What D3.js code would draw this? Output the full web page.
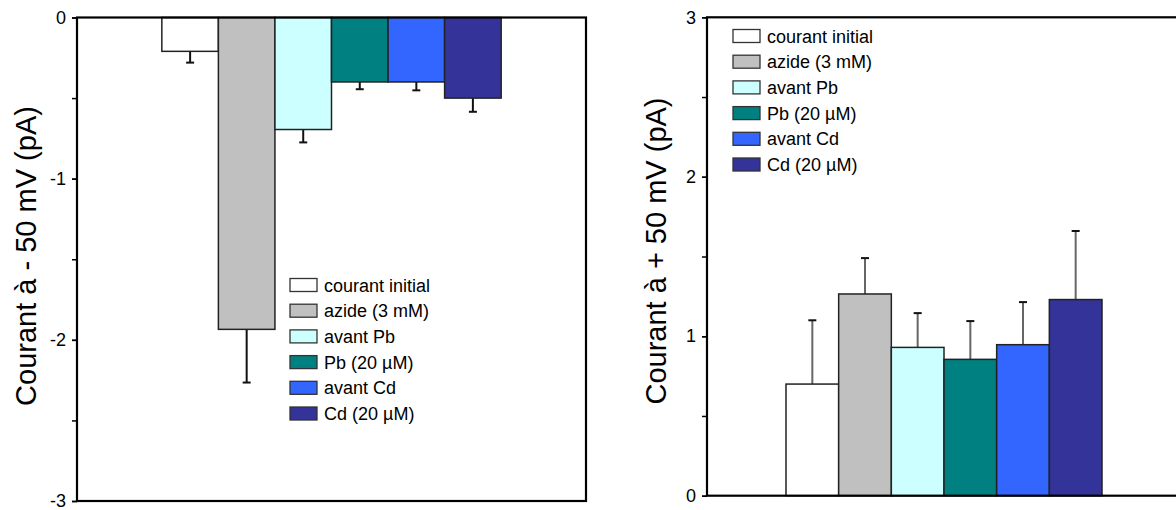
<!DOCTYPE html>
<html>
<head>
<meta charset="utf-8">
<script src="https://cdn.jsdelivr.net/npm/d3@7"></script>
<style>
  body { margin: 0; background: #fff; }
  text { font-family: "Liberation Sans", Arial, sans-serif; fill: #000; }
</style>
</head>
<body>
<div id="chart-area"></div>
<script>
// data
const categories = ["courant initial", "azide (3 mM)", "avant Pb", "Pb (20 µM)", "avant Cd", "Cd (20 µM)"]
const negValues = [-0.21, -1.935, -0.695, -0.40, -0.40, -0.50]
const negErrors = [0.07, 0.33, 0.08, 0.045, 0.052, 0.085]
const posValues = [0.70, 1.265, 0.93, 0.855, 0.947, 1.23]
const posErrors = [0.40, 0.225, 0.215, 0.24, 0.267, 0.43]
const negTicks = [0, -1, -2, -3]
const posTicks = [0, 1, 2, 3]

const COLORS = ["#ffffff", "#c0c0c0", "#ccffff", "#008080", "#3366ff", "#333399"]

const svg = d3.select("#chart-area").append("svg")
  .attr("width", 1176)
  .attr("height", 510)

function drawPanel(opts) {
  const W = opts.right - opts.left
  const H = opts.bottom - opts.top
  const g = svg.append("g")
    .attr("transform", `translate(${opts.left}, ${opts.top})`)

  const yScale = d3.scaleLinear().domain(opts.domain).range([0, H])

  // one group of bars, centred in the plot
  const xGroup = d3.scaleBand().domain(["g"]).range([0, W]).paddingOuter(0.25)
  const xScale = d3.scaleBand().domain(categories)
    .range([xGroup("g"), xGroup("g") + xGroup.bandwidth()])

  const data = categories.map((c, i) => ({ cat: c, v: opts.values[i], e: opts.errors[i], col: COLORS[i] }))

  // error bars first so the bar outline sits on top
  const err = g.append("g")
  const ex = d => xScale(d.cat) + xScale.bandwidth() / 2
  const eEnd = d => yScale(d.v + Math.sign(d.v) * d.e)
  err.selectAll("line.stem").data(data).enter().append("line")
    .attr("class", "stem")
    .attr("x1", ex).attr("x2", ex)
    .attr("y1", d => yScale(d.v)).attr("y2", eEnd)
    .attr("stroke", opts.errColor).attr("stroke-width", 2)
  err.selectAll("line.cap").data(data).enter().append("line")
    .attr("class", "cap")
    .attr("x1", d => ex(d) - 4).attr("x2", d => ex(d) + 4)
    .attr("y1", eEnd).attr("y2", eEnd)
    .attr("stroke", "#111").attr("stroke-width", 2)

  g.selectAll("rect.bar").data(data).enter().append("rect")
    .attr("class", "bar")
    .attr("x", d => xScale(d.cat))
    .attr("width", xScale.bandwidth())
    .attr("y", d => Math.min(yScale(0), yScale(d.v)))
    .attr("height", d => Math.abs(yScale(d.v) - yScale(0)))
    .attr("fill", d => d.col)
    .attr("stroke", "#222")
    .attr("stroke-width", 1.5)

  // frame
  g.append("rect")
    .attr("x", 0).attr("y", 0).attr("width", W).attr("height", H)
    .attr("fill", "none").attr("stroke", "#000").attr("stroke-width", 2.2)

  // y axis with half-unit minor ticks
  const lo = d3.min(opts.domain), hi = d3.max(opts.domain)
  const minor = d3.range(lo, hi + 0.001, 0.5)
  g.append("g")
    .attr("class", "y axis")
    .call(d3.axisLeft(yScale).tickValues(minor).tickSize(5).tickFormat(""))
    .call(a => a.select(".domain").remove())
    .call(a => a.selectAll("line").attr("stroke", "#000").attr("stroke-width", 1.5))
  g.append("g")
    .attr("class", "y axis")
    .call(d3.axisLeft(yScale).tickValues(opts.ticks).tickSize(5).tickPadding(6).tickFormat(d => String(d)))
    .call(a => a.select(".domain").remove())
    .call(a => a.selectAll("line").attr("stroke", "#000").attr("stroke-width", 1.5))
    .call(a => a.selectAll("text").attr("font-size", "18px")
      .attr("font-family", "'Liberation Sans', Arial, sans-serif").attr("fill", "#000"))

  g.append("text")
    .attr("transform", `translate(${opts.titleX - opts.left}, ${opts.titleY - opts.top}) rotate(-90)`)
    .attr("text-anchor", "middle")
    .attr("font-size", "29px")
    .text(opts.title)

  // legend
  const leg = g.selectAll("g.leg").data(data).enter().append("g")
    .attr("class", "leg")
    .attr("transform", (d, i) => `translate(${opts.legX - opts.left}, ${opts.legY - opts.top + i * 25.7})`)
  leg.append("rect")
    .attr("x", 0).attr("y", -6.5).attr("width", 27).attr("height", 13)
    .attr("fill", d => d.col).attr("stroke", "#333").attr("stroke-width", 1.3)
  leg.append("text")
    .attr("x", 34).attr("y", 6.5)
    .attr("font-size", "18px")
    .text(d => d.cat)
}

drawPanel({
  left: 77, right: 586, top: 17.5, bottom: 501,
  domain: [0, -3], values: negValues, errors: negErrors, ticks: negTicks,
  errColor: "#111",
  title: "Courant à - 50 mV (pA)", titleX: 36, titleY: 256,
  legX: 290, legY: 285
})

drawPanel({
  left: 707, right: 1181, top: 17.3, bottom: 495.7,
  domain: [3, 0], values: posValues, errors: posErrors, ticks: posTicks,
  errColor: "#666",
  title: "Courant à + 50 mV (pA)", titleX: 666, titleY: 251,
  legX: 733, legY: 36
})
</script>
</body>
</html>
